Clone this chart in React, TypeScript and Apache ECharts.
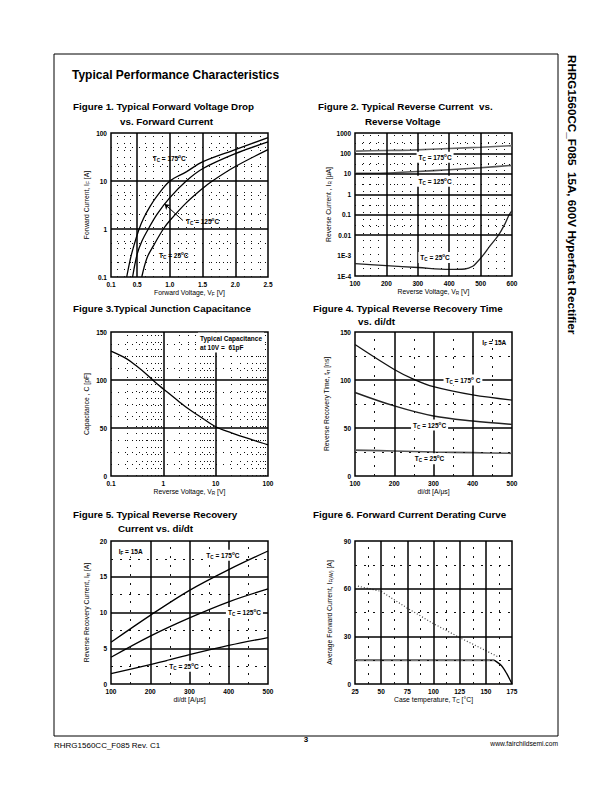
import React, { useEffect, useRef } from "react";
import * as echarts from "echarts";

const FONT = "'Liberation Sans', Arial, sans-serif";

// ---------- Figure 1: forward voltage vs forward current ----------
const f1XTicks = [0.1, 0.5, 1.0, 1.5, 2.0, 2.5];
const f1YTicks = [0.1, 1, 10, 100];
const f1XMinor = [0.2, 0.3, 0.4, 0.625, 0.75, 0.875, 1.125, 1.25, 1.375, 1.625, 1.75, 1.875, 2.125, 2.25, 2.375];
const f1YMinor = [0.2, 0.5, 2, 5, 20, 50];
const f1V175 = [0.34, 0.4, 0.45, 0.53, 0.6, 0.7, 0.8, 1.0, 1.25, 1.5, 2.0, 2.5];
const f1I175 = [0.1, 0.25, 0.45, 1, 1.7, 3, 4.8, 10, 15.5, 25, 45, 80];
const f1V125 = [0.43, 0.5, 0.57, 0.67, 0.8, 1.0, 1.25, 1.5, 2.0, 2.5];
const f1I125 = [0.1, 0.3, 0.55, 1, 2, 4.5, 10, 18, 37, 65];
const f1V25 = [0.57, 0.65, 0.75, 0.9, 1.0, 1.25, 1.5, 1.65, 2.0, 2.5];
const f1I25 = [0.1, 0.25, 0.45, 1, 1.5, 3.5, 7, 10, 20, 45];

// ---------- Figure 2: reverse current vs reverse voltage ----------
const f2XTicks = [100, 200, 300, 400, 500, 600];
const f2YTicks = [1e-4, 1e-3, 0.01, 0.1, 1, 10, 100, 1000];
const f2XMinor = [125, 150, 175, 225, 250, 275, 325, 350, 375, 425, 450, 475, 525, 550, 575];
const f2YMinor = [3e-4, 3e-3, 0.03, 0.3, 3, 30, 300];
const f2V175 = [100, 200, 280, 400, 500, 600];
const f2I175 = [130, 140, 145, 175, 200, 240];
const f2V125 = [100, 200, 300, 400, 500, 600];
const f2I125 = [10.5, 11, 13, 16, 20, 26];
const f2V25 = [100, 200, 300, 400, 450, 475, 490, 507, 530, 557, 575, 591, 600];
const f2I25 = [4e-4, 3.2e-4, 2.6e-4, 2.1e-4, 2.2e-4, 3e-4, 5e-4, 1e-3, 3e-3, 0.01, 0.03, 0.1, 0.16];

// ---------- Figure 3: junction capacitance ----------
const f3XTicks = [0.1, 1, 10, 100];
const f3YTicks = [0, 50, 100, 150];
const f3XMinor = [0.2, 0.3, 0.4, 0.5, 0.6, 0.7, 0.8, 0.9, 2, 3, 4, 5, 6, 7, 8, 9, 20, 30, 40, 50, 60, 70, 80, 90];
const f3YMinor = [12.5, 25, 37.5, 62.5, 75, 87.5, 112.5, 125, 137.5];
const f3V = [0.1, 0.2, 0.3, 0.5, 0.7, 1, 2, 3, 5, 10, 20, 50, 100];
const f3C = [130, 122, 115, 105, 97.6, 90.7, 77.4, 70, 62, 51.3, 45, 37.7, 32.5];

// ---------- Figure 4: reverse recovery time vs di/dt ----------
const f4XTicks = [100, 200, 300, 400, 500];
const f4YTicks = [0, 50, 100, 150];
const f4XMinor = [150, 250, 350, 450];
const f4YMinor = [25, 75, 125];
const f4Didt = [100, 200, 250, 300, 400, 500];
const f4T175 = [137, 111, 100.7, 93, 84.4, 79];
const f4Didt125 = [100, 200, 300, 400, 500];
const f4T125 = [87, 73, 62.5, 57.3, 53.8];
const f4T25 = [27, 26, 25, 24.3, 23.6];

// ---------- Figure 5: reverse recovery current vs di/dt ----------
const f5XTicks = [100, 200, 300, 400, 500];
const f5YTicks = [0, 5, 10, 15, 20];
const f5XMinor = [150, 250, 350, 450];
const f5YMinor = [2.5, 7.5, 12.5, 17.5];
const f5Didt = [100, 200, 300, 400, 500];
const f5I175 = [5.84, 9.6, 13.1, 16.0, 18.6];
const f5I125 = [3.74, 6.7, 9.25, 11.5, 13.3];
const f5I25 = [1.45, 2.7, 4.1, 5.4, 6.5];

// ---------- Figure 6: derating curve ----------
const f6XTicks = [25, 50, 75, 100, 125, 150, 175];
const f6YTicks = [0, 30, 60, 90];
const f6XMinor = [37.5, 62.5, 87.5, 112.5, 137.5, 162.5];
const f6YMinor = [15, 45, 75];
const f6DotT = [25, 50, 75, 100, 125, 150, 162];
const f6DotI = [62, 58.3, 47.7, 38, 29.2, 21, 17];
const f6FlatT = [25, 158];
const f6FlatI = [15, 15];
const f6EndT = [158, 165, 170, 175];
const f6EndI = [15, 11.5, 6.5, 0];

const zip = (xs: number[], ys: number[]) => xs.map((x, i) => [x, ys[i]]);
const fmt = (v: number) => String(Number(v.toPrecision(6)));

const RICH: any = {
  n: { fontFamily: FONT, fontSize: 6.5, fontWeight: "bold", color: "#000", lineHeight: 9, verticalAlign: "middle" },
  s: { fontFamily: FONT, fontSize: 4.6, fontWeight: "bold", color: "#000", lineHeight: 4, verticalAlign: "bottom" },
  p: { fontFamily: FONT, fontSize: 4.6, fontWeight: "bold", color: "#000", lineHeight: 4, verticalAlign: "top" },
};
const NRICH: any = {
  n: { fontFamily: FONT, fontSize: 6.8, color: "#000", lineHeight: 9, verticalAlign: "middle" },
  s: { fontFamily: FONT, fontSize: 4.8, color: "#000", lineHeight: 4, verticalAlign: "bottom" },
};

const tc = (t: string) => `{n|T}{s|C}{n| = ${t}}{p|o}{n|C}`;

const MAJOR = { color: "#000", width: 1.5, type: "solid" };
const MINOR_A = { color: "#111", width: 1, type: [1, 6] };
const MINOR_B = { color: "#111", width: 1, type: [2, 7] };

const GRIDS = [
  { left: 111, top: 133, width: 157, height: 144 },
  { left: 355, top: 133, width: 157, height: 143 },
  { left: 111, top: 332, width: 157, height: 144 },
  { left: 355, top: 332, width: 157, height: 144 },
  { left: 111, top: 541, width: 157, height: 143 },
  { left: 355, top: 541, width: 157, height: 143 },
];

const inner = (a: number[]) => a.slice(1, a.length - 1);

function gridSeries(i: number, xMaj: number[], xMin: number[], yMaj: number[], yMin: number[], minorStyle: any) {
  const data: any[] = [];
  xMin.forEach((v) => data.push({ xAxis: v, lineStyle: minorStyle }));
  yMin.forEach((v) => data.push({ yAxis: v, lineStyle: minorStyle }));
  xMaj.forEach((v) => data.push({ xAxis: v, lineStyle: MAJOR }));
  yMaj.forEach((v) => data.push({ yAxis: v, lineStyle: MAJOR }));
  return {
    type: "line", xAxisIndex: i, yAxisIndex: i, data: [], silent: true, z: 1, symbol: "none",
    markLine: { silent: true, symbol: ["none", "none"], label: { show: false }, emphasis: { disabled: true }, data },
  };
}

function curve(i: number, pts: number[][], color = "#000", width = 1.3, type: any = "solid", smooth: any = 0.35) {
  return {
    type: "line", xAxisIndex: i, yAxisIndex: i, data: pts, symbol: "none", smooth, z: 3, silent: true,
    lineStyle: { color, width, type },
  };
}

function annSeries(i: number, items: any[], extraMarkLine?: any) {
  const s: any = {
    type: "line", xAxisIndex: i, yAxisIndex: i, data: [], silent: true, z: 10, symbol: "none",
    markPoint: {
      silent: true, symbol: "circle", symbolSize: 0, itemStyle: { color: "rgba(0,0,0,0)" },
      data: items.map((a) => ({
        coord: a.coord,
        label: {
          show: true, position: a.pos || "inside", distance: 0, formatter: a.text, rich: a.rich || RICH,
          backgroundColor: a.bg || "transparent", padding: a.bg ? [1, 2] : 0, align: a.align,
        },
      })),
    },
  };
  if (extraMarkLine) s.markLine = extraMarkLine;
  return s;
}

const labelStyle = { fontFamily: FONT, fontSize: 6.5, fontWeight: "bold" as const, color: "#000" };

function axis(i: number, kind: "x" | "y", o: any) {
  const base: any = {
    gridIndex: i, type: o.type || "value", min: o.min, max: o.max,
    axisLine: { show: false }, axisTick: { show: false }, splitLine: { show: false },
    name: o.name, nameLocation: "middle", nameGap: o.nameGap, nameRotate: kind === "y" ? 90 : 0,
    nameTextStyle: { rich: NRICH },
    axisLabel: { ...labelStyle, margin: 4, showMinLabel: true, showMaxLabel: true, interval: 0, formatter: o.formatter || fmt },
  };
  if (o.interval != null) base.interval = o.interval;
  if (o.splitNumber != null) base.splitNumber = o.splitNumber;
  if (o.custom) base.axisLabel.customValues = o.custom;
  if (o.type === "log") base.logBase = 10;
  return base;
}

function buildOption() {
  const xAxes = [
    axis(0, "x", { min: 0.1, max: 2.5, custom: f1XTicks, formatter: (v: number) => v.toFixed(1), name: "{n|Forward Voltage, V}{s|F}{n| [V]}", nameGap: 11 }),
    axis(1, "x", { min: 100, max: 600, interval: 100, name: "{n|Reverse Voltage, V}{s|R}{n| [V]}", nameGap: 11 }),
    axis(2, "x", { type: "log", min: 0.1, max: 100, name: "{n|Reverse Voltage, V}{s|R}{n| [V]}", nameGap: 11 }),
    axis(3, "x", { min: 100, max: 500, interval: 100, name: "{n|di/dt [A/μs]}", nameGap: 11 }),
    axis(4, "x", { min: 100, max: 500, interval: 100, name: "{n|di/dt [A/μs]}", nameGap: 11 }),
    axis(5, "x", { min: 25, max: 175, interval: 25, name: "{n|Case temperature, T}{s|C}{n| [°C]}", nameGap: 11 }),
  ];
  const yAxes = [
    axis(0, "y", { type: "log", min: 0.1, max: 100, name: "{n|Forward Current, I}{s|F}{n| [A]}", nameGap: 20 }),
    axis(1, "y", {
      type: "log", min: 1e-4, max: 1000, splitNumber: 7,
      formatter: (v: number) => (v >= 0.01 ? fmt(v) : "1E" + Math.round(Math.log10(v))),
      name: "{n|Reverse Current , I}{s|R}{n| [μA]}", nameGap: 21,
    }),
    axis(2, "y", { min: 0, max: 150, interval: 50, name: "{n|Capacitance , C [pF]}", nameGap: 20 }),
    axis(3, "y", { min: 0, max: 150, interval: 50, name: "{n|Reverse Recovery Time, t}{s|rr}{n| [ns]}", nameGap: 24 }),
    axis(4, "y", { min: 0, max: 20, interval: 5, name: "{n|Reverse Recovery Current, I}{s|rr}{n| [A]}", nameGap: 20 }),
    axis(5, "y", { min: 0, max: 90, interval: 30, name: "{n|Average Forward Current, I}{s|F(AV)}{n| [A]}", nameGap: 21 }),
  ];

  const series: any[] = [
    // Figure 1
    gridSeries(0, inner(f1XTicks), f1XMinor, inner(f1YTicks), f1YMinor, MINOR_A),
    curve(0, zip(f1V175, f1I175)),
    curve(0, zip(f1V125, f1I125)),
    curve(0, zip(f1V25, f1I25)),
    annSeries(0, [
      { coord: [0.99, 29], text: tc("175") },
      { coord: [1.5, 1.4], text: tc("125") },
      { coord: [1.06, 0.28], text: tc("25") },
    ], {
      silent: true, symbol: ["none", "arrow"], symbolSize: 5, label: { show: false },
      lineStyle: { color: "#000", width: 1, type: "solid" },
      data: [[{ coord: [1.2, 1.5] }, { coord: [0.92, 3.3] }]],
    }),
    // Figure 2
    gridSeries(1, inner(f2XTicks), f2XMinor, inner(f2YTicks), f2YMinor, MINOR_A),
    curve(1, zip(f2V175, f2I175), "#666", 1.6, "solid", 0.2),
    curve(1, zip(f2V125, f2I125), "#555", 1.6, "solid", 0.2),
    curve(1, zip(f2V25, f2I25), "#222", 1.3, "solid", 0.35),
    annSeries(1, [
      { coord: [355, 65], text: tc("175"), bg: "#fff" },
      { coord: [355, 4.3], text: tc("125"), bg: "#fff" },
      { coord: [355, 8e-4], text: tc("25"), bg: "#fff" },
    ]),
    // Figure 3
    gridSeries(2, inner(f3XTicks), f3XMinor, inner(f3YTicks), f3YMinor, MINOR_A),
    curve(2, zip(f3V, f3C)),
    annSeries(2, [
      { coord: [4.6, 139], text: "{n|Typical Capacitance}\n{n|at 10V =  61pF}", pos: "right", bg: "#fff" },
    ]),
    // Figure 4
    gridSeries(3, inner(f4XTicks), f4XMinor, inner(f4YTicks), f4YMinor, MINOR_B),
    curve(3, zip(f4Didt, f4T175), "#111", 1.3),
    curve(3, zip(f4Didt125, f4T125), "#222", 1.4),
    curve(3, zip(f4Didt125, f4T25), "#555", 1.6),
    annSeries(3, [
      { coord: [455, 139], text: "{n|I}{s|F}{n| = 15A}" },
      { coord: [375, 100], text: "{n|T}{s|C}{n| = 175}{p|o}{n| C}", bg: "#fff" },
      { coord: [290, 53], text: tc("125"), bg: "#fff" },
      { coord: [290, 18], text: tc("25"), bg: "#fff" },
    ]),
    // Figure 5
    gridSeries(4, inner(f5XTicks), f5XMinor, inner(f5YTicks), f5YMinor, MINOR_B),
    curve(4, zip(f5Didt, f5I175)),
    curve(4, zip(f5Didt, f5I125)),
    curve(4, zip(f5Didt, f5I25)),
    annSeries(4, [
      { coord: [150, 18.6], text: "{n|I}{s|F}{n| = 15A}", bg: "#fff" },
      { coord: [385, 18], text: tc("175"), bg: "#fff" },
      { coord: [440, 10], text: tc("125"), bg: "#fff" },
      { coord: [286, 2.5], text: tc("25"), bg: "#fff" },
    ]),
    // Figure 6
    gridSeries(5, inner(f6XTicks), f6XMinor, inner(f6YTicks), f6YMinor, MINOR_B),
    curve(5, zip(f6DotT, f6DotI), "#444", 1.2, [1, 2], false),
    curve(5, zip(f6FlatT, f6FlatI), "#777", 2.2, "solid", false),
    curve(5, zip(f6EndT, f6EndI), "#000", 1.3, "solid", 0.3),
  ];

  const titleFont = `bold 9.8px ${FONT}`;
  const txt = (x: number, y: number, text: string, font: string, align = "left", extra: any = {}) => ({
    type: "text", x, y, silent: true, ...extra,
    style: { text, font, fill: "#000", textAlign: align, textVerticalAlign: "middle" },
  });

  const graphic = [
    { type: "rect", shape: { x: 54, y: 54, width: 504, height: 682 }, style: { fill: "none", stroke: "#000", lineWidth: 1 }, silent: true, z: -10 },
    txt(72, 75, "Typical Performance Characteristics", `bold 12px ${FONT}`),
    txt(73, 106, "Figure 1. Typical Forward Voltage Drop", titleFont),
    txt(120, 121, "vs. Forward Current", titleFont),
    txt(318, 106, "Figure 2. Typical Reverse Current  vs.", titleFont),
    txt(365, 121, "Reverse Voltage", titleFont),
    txt(73, 308, "Figure 3.Typical Junction Capacitance", titleFont),
    txt(313, 308, "Figure 4. Typical Reverse Recovery Time", titleFont),
    txt(358, 321, "vs. di/dt", titleFont),
    txt(73, 514, "Figure 5. Typical Reverse Recovery", titleFont),
    txt(118, 528, "Current vs. di/dt", titleFont),
    txt(313, 514, "Figure 6. Forward Current Derating Curve", titleFont),
    txt(572, 55, "RHRG1560CC_F085  15A, 600V Hyperfast Rectifier", `bold 11.7px ${FONT}`, "left", { rotation: -Math.PI / 2 }),
    txt(54, 745, "RHRG1560CC_F085 Rev. C1", `8px ${FONT}`),
    txt(306, 739, "3", `bold 8px ${FONT}`, "center"),
    txt(558, 743, "www.fairchildsemi.com", `6.7px ${FONT}`, "right"),
  ];

  return {
    animation: false,
    backgroundColor: "#fff",
    grid: GRIDS.map((g) => ({ ...g, show: true, borderColor: "#000", borderWidth: 1.5, backgroundColor: "transparent", containLabel: false })),
    xAxis: xAxes,
    yAxis: yAxes,
    series,
    graphic,
  };
}

export default function App() {
  const ref = useRef<HTMLDivElement>(null);
  useEffect(() => {
    if (!ref.current) return;
    const chart = echarts.init(ref.current, undefined, { renderer: "svg" });
    chart.setOption(buildOption() as any);
    return () => chart.dispose();
  }, []);
  return (
    <div
      ref={ref}
      style={{ position: "absolute", left: 0, top: 0, width: 612, height: 792, background: "#fff" }}
    />
  );
}
